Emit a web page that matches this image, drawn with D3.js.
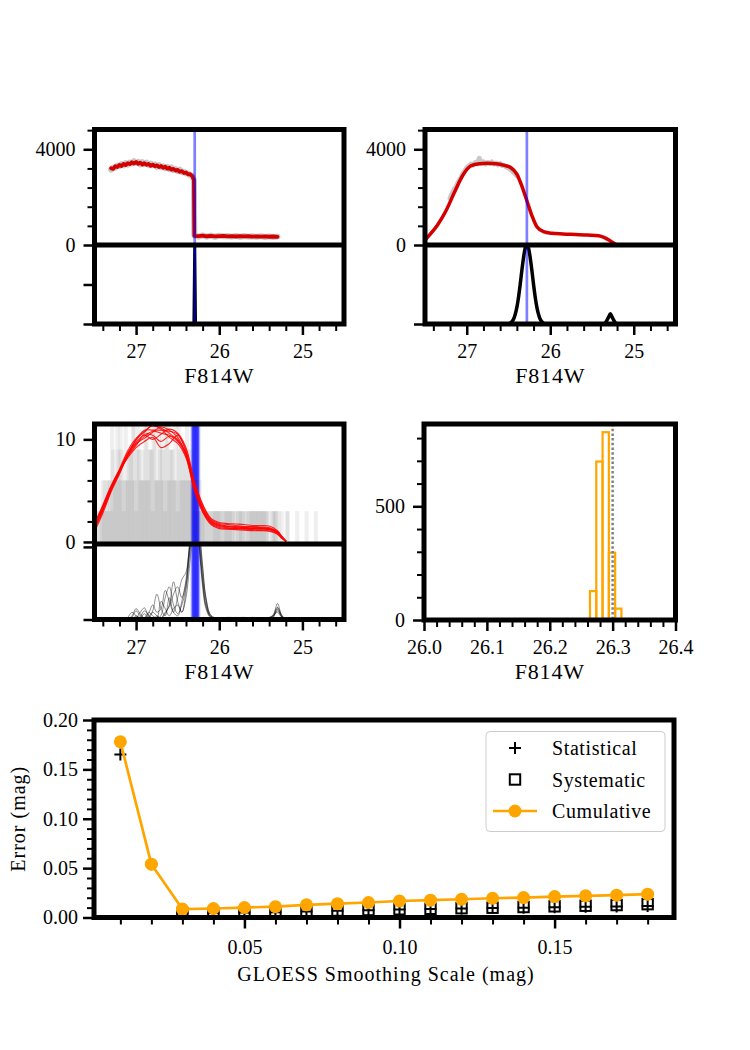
<!DOCTYPE html>
<html>
<head>
<meta charset="utf-8">
<script src="https://cdn.jsdelivr.net/npm/d3@7"></script>
<style>
  body { margin: 0; background: #fff; }
  svg { display: block; }
</style>
</head>
<body>
<script>
// ---------------- data ----------------
// shared magnitude axis of the F814W panels
var magDomain = [27.5, 24.5];
var magMajor = [27, 26, 25];
var magMajorLabels = ["27", "26", "25"];
var magMinor = [27.4, 27.2, 26.8, 26.6, 26.4, 26.2, 25.8, 25.6, 25.4, 25.2, 24.8, 24.6];

// top-left: luminosity function, tiny smoothing scale
var tlMag = [27.300, 27.275, 27.250, 27.225, 27.200, 27.175, 27.150, 27.125, 27.100, 27.075,
  27.050, 27.025, 27.000, 26.975, 26.950, 26.925, 26.900, 26.875, 26.850, 26.825,
  26.800, 26.775, 26.750, 26.725, 26.700, 26.675, 26.650, 26.625, 26.600, 26.575,
  26.550, 26.525, 26.500, 26.475, 26.450, 26.425, 26.400, 26.375, 26.350, 26.325,
  26.305, 26.300, 26.250, 26.200, 26.150, 26.100, 26.050, 26.000, 25.950, 25.900,
  25.850, 25.800, 25.750, 25.700, 25.650, 25.600, 25.550, 25.500, 25.450, 25.400,
  25.350, 25.300];
var tlRaw = [3150, 3240, 3230, 3320, 3290, 3380, 3330, 3420, 3360, 3450,
  3410, 3500, 3430, 3480, 3370, 3460, 3380, 3440, 3340, 3400,
  3330, 3370, 3270, 3340, 3250, 3290, 3210, 3270, 3170, 3240,
  3130, 3170, 3090, 3150, 3040, 3060, 2990, 2990, 2920, 2900,
  2700, 400, 350, 400, 350, 395, 345, 390, 370, 375,
  350, 380, 345, 375, 350, 365, 340, 370, 335, 360,
  330, 350];
var tlSmooth = [3210, 3180, 3290, 3260, 3350, 3300, 3390, 3340, 3420, 3380,
  3460, 3400, 3470, 3390, 3440, 3360, 3420, 3350, 3390, 3310,
  3360, 3290, 3330, 3260, 3300, 3230, 3270, 3190, 3230, 3150,
  3180, 3110, 3140, 3060, 3090, 3010, 3030, 2950, 2960, 2880,
  2720, 380, 370, 390, 365, 380, 360, 375, 385, 360,
  370, 355, 372, 358, 366, 350, 362, 348, 358, 345,
  355, 340];
var tlEdgeMag = [27.50, 26.32, 26.305, 26.295, 26.285, 26.27, 24.50];
var tlEdge = [0, 0, 0, 1, 0, 0, 0];
var tlTrgb = 26.295;

// top-right: smoothed luminosity function
var trRawMag = [27.200, 27.175, 27.150, 27.125, 27.100, 27.075, 27.050, 27.025, 27.000, 26.975,
  26.950, 26.925, 26.900, 26.875, 26.850, 26.825, 26.800, 26.775, 26.750, 26.725,
  26.700, 26.675, 26.650, 26.625, 26.600, 26.575, 26.550, 26.525, 26.500, 26.475,
  26.450, 26.425, 26.400];
var trRaw = [1950, 2150, 2330, 2450, 2640, 2780, 2950, 3080, 3230, 3300,
  3380, 3330, 3440, 3390, 3620, 3420, 3480, 3380, 3450, 3400,
  3470, 3390, 3430, 3350, 3400, 3320, 3330, 3250, 3230, 3150,
  3080, 2980, 2900];
var trMag = [27.50, 27.45, 27.35, 27.25, 27.15, 27.05, 26.95, 26.85, 26.75, 26.65,
  26.55, 26.47, 26.40, 26.34, 26.28, 26.22, 26.16, 26.08, 25.98, 25.85,
  25.70, 25.55, 25.42, 25.35, 25.28, 25.22, 25.19];
var trSmooth = [200, 400, 840, 1420, 2180, 2900, 3310, 3400, 3415, 3400,
  3330, 3230, 2960, 2460, 1850, 1230, 760, 560, 490, 462,
  440, 418, 388, 310, 170, 40, 0];
var trEdgeMag = [27.50, 26.50, 26.48, 26.46, 26.44, 26.42, 26.40, 26.38, 26.36, 26.34,
  26.32, 26.30, 26.28, 26.26, 26.24, 26.22, 26.20, 26.18, 26.16, 26.14,
  26.12, 26.10, 26.08, 26.04, 25.36, 25.33, 25.30, 25.28, 25.26, 25.23,
  25.20, 24.50];
var trEdge = [0, 0, 0.01, 0.03, 0.06, 0.12, 0.21, 0.34, 0.50, 0.68,
  0.84, 0.96, 1.0, 0.96, 0.84, 0.68, 0.50, 0.34, 0.21, 0.12,
  0.06, 0.03, 0.01, 0, 0, 0.03, 0.09, 0.13, 0.09, 0.03,
  0, 0];
var trTrgb = 26.28;

// middle-left: bootstrap realisations
var mlBinWidth = 0.05;
var mlBinStart = [27.50, 27.4875, 27.475, 27.4625];
var mlHist = [
  [3, 3, 6, 6, 9, 12, 9, 12, 9, 12, 12, 9, 12, 9, 12, 12, 9, 12, 9, 12, 9, 9, 9, 6, 6, 3, 3,
   3, 3, 3, 3, 3, 3, 0, 3, 3, 3, 3, 3, 3, 3, 3, 0, 3, 0, 0, 3, 0, 0, 0, 0, 0, 0, 0, 0, 0, 0, 0, 0, 0],
  [0, 3, 3, 6, 6, 9, 6, 6, 9, 6, 9, 6, 6, 9, 6, 9, 6, 6, 9, 6, 6, 6, 6, 6, 3, 3, 3,
   3, 3, 3, 0, 3, 3, 3, 3, 3, 0, 3, 3, 3, 3, 0, 3, 3, 0, 0, 0, 0, 3, 0, 0, 0, 0, 0, 0, 0, 0, 0, 0, 0],
  [3, 6, 6, 3, 6, 6, 3, 6, 6, 3, 6, 6, 6, 3, 6, 6, 3, 6, 6, 3, 6, 6, 6, 3, 3, 3, 0,
   0, 3, 3, 3, 3, 3, 3, 3, 0, 3, 3, 3, 3, 3, 3, 3, 0, 3, 0, 0, 0, 0, 0, 3, 0, 0, 0, 0, 0, 0, 0, 0, 0],
  [0, 3, 3, 12, 6, 12, 6, 9, 12, 9, 6, 12, 9, 12, 6, 12, 12, 9, 6, 12, 9, 12, 9, 6, 6, 3, 3,
   3, 3, 3, 3, 3, 3, 0, 3, 3, 3, 3, 3, 3, 3, 0, 3, 3, 0, 3, 0, 0, 0, 0, 0, 0, 3, 0, 0, 0, 0, 0, 0, 0]
];
var mlGrid = [27.5, 27.4, 27.3, 27.2, 27.1, 27.0, 26.9, 26.8, 26.7, 26.6, 26.5, 26.4, 26.3,
  26.2, 26.1, 26.0, 25.9, 25.8, 25.7, 25.6, 25.5, 25.4, 25.3, 25.25, 25.2];
var mlSmooth = [
  [1.5, 3.3, 5.2, 6.8, 8.4, 9.5, 10.3, 10.8, 10.6, 10.4, 10.0, 8.6, 5.5, 3.3, 2.0, 1.6, 1.5, 1.45, 1.4, 1.38, 1.35, 1.3, 0.95, 0.5, 0.1],
  [1.2, 3.0, 5.0, 6.9, 8.7, 9.9, 10.8, 11.3, 11.0, 10.2, 9.6, 8.2, 5.2, 3.0, 1.8, 1.4, 1.3, 1.3, 1.25, 1.2, 1.15, 1.1, 0.8, 0.4, 0.05],
  [1.8, 3.6, 5.5, 7.0, 8.2, 9.2, 9.8, 10.2, 9.2, 9.6, 10.4, 9.0, 5.8, 3.6, 2.2, 1.8, 1.7, 1.6, 1.5, 1.5, 1.45, 1.4, 1.0, 0.55, 0.1],
  [1.0, 2.8, 4.9, 6.6, 8.5, 10.0, 10.9, 10.9, 10.9, 10.8, 10.5, 8.8, 5.3, 3.1, 1.9, 1.5, 1.4, 1.3, 1.3, 1.3, 1.25, 1.2, 0.9, 0.45, 0.08],
  [1.6, 3.4, 5.3, 7.0, 8.6, 9.6, 10.1, 10.7, 11.2, 10.9, 10.2, 8.5, 5.6, 3.4, 2.1, 1.7, 1.55, 1.5, 1.45, 1.45, 1.4, 1.3, 1.0, 0.5, 0.1],
  [1.4, 3.1, 5.1, 6.7, 8.3, 9.4, 10.5, 10.4, 9.8, 10.3, 9.8, 8.7, 5.4, 3.2, 2.0, 1.6, 1.5, 1.4, 1.35, 1.3, 1.3, 1.25, 0.9, 0.45, 0.1],
  [1.7, 3.5, 5.4, 7.1, 8.9, 10.1, 10.7, 11.4, 11.1, 10.6, 9.9, 8.3, 5.0, 2.9, 1.7, 1.3, 1.25, 1.2, 1.15, 1.1, 1.1, 1.05, 0.75, 0.35, 0.05],
  [1.3, 3.2, 5.2, 6.9, 8.5, 9.7, 10.4, 10.0, 10.5, 11.0, 10.6, 9.2, 6.0, 3.7, 2.3, 1.9, 1.8, 1.75, 1.7, 1.6, 1.6, 1.55, 1.1, 0.6, 0.12]
];
var meGrid = [27.10, 27.05, 27.00, 26.95, 26.90, 26.85, 26.80, 26.75, 26.70, 26.65,
  26.60, 26.55, 26.50, 26.45, 26.40, 26.36, 26.32, 26.28, 26.24, 26.20,
  26.16, 26.10, 26.00, 25.90, 25.80, 25.70, 25.60, 25.50, 25.40, 25.35,
  25.30, 25.25, 25.20];
var mlEdgeResp = [
  [0, 0.05, 0.15, 0.08, 0.02, 0.04, 0.1, 0.05, 0.02, 0.08, 0.2, 0.52, 0.25, 0.1, 0.3, 0.7, 1.15, 1.35, 1.05, 0.55, 0.2, 0.03, 0.02, 0, 0.03, 0, 0.02, 0, 0.02, 0.06, 0.22, 0.06, 0],
  [0, 0, 0.02, 0.1, 0.16, 0.05, 0.02, 0, 0.06, 0.3, 0.45, 0.2, 0.08, 0.2, 0.45, 0.9, 1.3, 1.5, 1.2, 0.7, 0.3, 0.06, 0.01, 0.02, 0, 0, 0.03, 0.01, 0, 0.04, 0.14, 0.04, 0],
  [0.02, 0.1, 0.05, 0.02, 0, 0.08, 0.2, 0.1, 0.15, 0.4, 0.25, 0.1, 0.3, 0.55, 0.65, 0.95, 1.25, 1.3, 0.95, 0.5, 0.18, 0.04, 0, 0.03, 0.02, 0, 0, 0.02, 0.01, 0.05, 0.1, 0.03, 0],
  [0, 0, 0, 0.04, 0.12, 0.06, 0, 0.05, 0.02, 0.1, 0.18, 0.35, 0.45, 0.3, 0.5, 1.0, 1.4, 1.45, 1.0, 0.45, 0.15, 0.02, 0.01, 0, 0.02, 0.03, 0, 0, 0.02, 0.07, 0.17, 0.05, 0],
  [0, 0.03, 0.12, 0.05, 0.02, 0.1, 0.05, 0.02, 0.25, 0.15, 0.05, 0.15, 0.2, 0.1, 0.4, 0.85, 1.3, 1.55, 1.25, 0.75, 0.3, 0.05, 0, 0, 0.02, 0, 0.02, 0, 0.03, 0.05, 0.12, 0.04, 0],
  [0, 0, 0.05, 0.02, 0.08, 0.02, 0.12, 0.35, 0.15, 0.05, 0.3, 0.1, 0.05, 0.25, 0.55, 1.0, 1.35, 1.4, 1.1, 0.6, 0.25, 0.04, 0.02, 0.01, 0, 0.02, 0.01, 0.02, 0, 0.03, 0.16, 0.06, 0]
];
var mlEdges = [26.27, 26.28, 26.28, 26.285, 26.29, 26.29, 26.29, 26.28, 26.295, 26.30,
  26.29, 26.28, 26.275, 26.29, 26.30, 26.285, 26.29, 26.31, 26.265, 26.29];

// middle-right: histogram of tip magnitudes
var histEdges = [26.264, 26.274, 26.284, 26.294, 26.304, 26.314];
var histCounts = [127, 697, 826, 296, 50];
var histMarker = 26.30;
var mrMajor = [26.0, 26.1, 26.2, 26.3, 26.4];
var mrMajorLabels = ["26.0", "26.1", "26.2", "26.3", "26.4"];
var mrMinor = [26.02, 26.04, 26.06, 26.08, 26.12, 26.14, 26.16, 26.18, 26.22, 26.24,
  26.26, 26.28, 26.32, 26.34, 26.36, 26.38];

// bottom: error vs smoothing scale (null = hidden under the cumulative marker)
var smoothScale = [0.01, 0.02, 0.03, 0.04, 0.05, 0.06, 0.07, 0.08, 0.09, 0.10,
  0.11, 0.12, 0.13, 0.14, 0.15, 0.16, 0.17, 0.18];
var statErr = [0.165, 0.054, 0.0043, 0.0046, 0.0051, 0.0054, 0.0062, 0.0068, 0.0074, 0.0081,
  0.0086, 0.0090, 0.0095, 0.0100, 0.0104, 0.0108, 0.0112, 0.0116];
var sysErr = [null, null, 0.0042, 0.0045, 0.0050, 0.0056, 0.0064, 0.0070, 0.0076, 0.0083,
  0.0088, 0.0094, 0.0099, 0.0106, 0.0113, 0.0119, 0.0126, 0.0135];
var cumErr = [0.178, 0.054, 0.0085, 0.0091, 0.0101, 0.0110, 0.0128, 0.0140, 0.0152, 0.0167,
  0.0175, 0.0185, 0.0195, 0.0202, 0.0212, 0.0219, 0.0226, 0.0236];
var bxMajor = [0.05, 0.10, 0.15];
var bxMajorLabels = ["0.05", "0.10", "0.15"];
var bxMinor = [0.01, 0.02, 0.03, 0.04, 0.06, 0.07, 0.08, 0.09, 0.11, 0.12, 0.13, 0.14, 0.16, 0.17, 0.18];
var byMajor = [0, 0.05, 0.10, 0.15, 0.20];
var byMajorLabels = ["0.00", "0.05", "0.10", "0.15", "0.20"];
var byMinor = [0.01, 0.02, 0.03, 0.04, 0.06, 0.07, 0.08, 0.09, 0.11, 0.12, 0.13, 0.14, 0.16, 0.17, 0.18, 0.19];
var legendNames = ["Statistical", "Systematic", "Cumulative"];

// ---------------- layout ----------------
var FONT = "'Liberation Serif', 'DejaVu Serif', serif";
var PTL = {l: 94.5, r: 344, t: 129.5, m: 245, b: 324};
var PTR = {l: 425, r: 675.5, t: 129.5, m: 245, b: 324};
var PML = {l: 94.5, r: 344, t: 424, m: 544, b: 619.5};
var PMR = {l: 424, r: 675.5, t: 424, b: 620};
var PB = {l: 94, r: 674, t: 720, b: 917.5};
var ORANGE = "#ffa500";

var svg = d3.select("body").append("svg").attr("width", 750).attr("height", 1050);
var defs = svg.append("defs");

function addClip(id, p, y0, y1) {
  defs.append("clipPath").attr("id", id).append("rect")
    .attr("x", p.l).attr("y", y0).attr("width", p.r - p.l).attr("height", y1 - y0);
  return svg.append("g").attr("clip-path", "url(#" + id + ")");
}

function drawLine(g, xs, ys, xs_, ys_, curve, color, width, opacity) {
  var line = d3.line().x(function (d) { return xs_(d[0]); }).y(function (d) { return ys_(d[1]); });
  if (curve) line.curve(curve);
  return g.append("path").datum(d3.zip(xs, ys)).attr("d", line)
    .attr("fill", "none").attr("stroke", color).attr("stroke-width", width)
    .attr("stroke-opacity", opacity == null ? 1 : opacity)
    .attr("stroke-linejoin", "round").attr("stroke-linecap", "round");
}

function vline(g, x, y0, y1, color, width, opacity) {
  g.append("line").attr("x1", x).attr("x2", x).attr("y1", y0).attr("y2", y1)
    .attr("stroke", color).attr("stroke-width", width).attr("stroke-opacity", opacity);
}

function frame(p) {
  svg.append("rect").attr("x", p.l).attr("y", p.t).attr("width", p.r - p.l).attr("height", p.b - p.t)
    .attr("fill", "none").attr("stroke", "#000").attr("stroke-width", 5);
  if (p.m) {
    svg.append("line").attr("x1", p.l).attr("x2", p.r).attr("y1", p.m).attr("y2", p.m)
      .attr("stroke", "#000").attr("stroke-width", 5);
  }
}

function styleAxis(g, width) {
  g.attr("font-family", null).attr("font-size", null);
  g.select(".domain").remove();
  g.selectAll(".tick line").attr("stroke", "#000").attr("stroke-width", width);
  g.selectAll(".tick text").attr("fill", "#000")
    .style("font-family", FONT).style("font-size", "20px");
}

function drawAxis(axisFn, scale, pos, major, labels, minor, pad) {
  if (minor && minor.length) {
    var gMin = svg.append("g").attr("transform", pos)
      .call(axisFn(scale).tickValues(minor).tickSize(7).tickFormat(function () { return ""; }));
    styleAxis(gMin, 2);
  }
  var gMaj = svg.append("g").attr("transform", pos)
    .call(axisFn(scale).tickValues(major).tickSize(11).tickPadding(pad)
      .tickFormat(function (d, i) { return labels ? labels[i] : ""; }));
  styleAxis(gMaj, 2.5);
}

function xLabel(text, cx, y, size, spacing) {
  svg.append("text").attr("x", cx).attr("y", y).attr("text-anchor", "middle")
    .style("font-family", FONT).style("font-size", size + "px")
    .style("letter-spacing", spacing + "px").text(text);
}

// ---------------- top-left ----------------
(function () {
  var p = PTL;
  var x = d3.scaleLinear().domain(magDomain).range([p.l, p.r]);
  var yT = d3.scaleLinear().domain([0, 4827]).range([p.m, p.t]);
  var yB = d3.scaleLinear().domain([0, 1]).range([p.b, p.m]);
  var gT = addClip("tlTop", p, p.t, p.m);
  drawLine(gT, tlMag, tlRaw, x, yT, null, "#c8c8c8", 6);
  drawLine(gT, tlMag, tlSmooth, x, yT, null, "#d40000", 3.8);
  vline(gT, x(tlTrgb), p.t, p.m, "blue", 2.7, 0.5);
  var gB = addClip("tlBot", p, p.m, p.b);
  drawLine(gB, tlEdgeMag, tlEdge, x, yB, null, "#000", 3);
  vline(gB, x(tlTrgb), p.m, p.b, "blue", 2.7, 0.5);
  frame(p);
  drawAxis(d3.axisBottom, x, "translate(0," + p.b + ")", magMajor, magMajorLabels, magMinor, 9);
  drawAxis(d3.axisLeft, yT, "translate(" + p.l + ",0)", [0, 4000], ["0", "4000"], [800, 1600, 2400, 3200, 4800], 8);
  drawAxis(d3.axisLeft, yB, "translate(" + p.l + ",0)", [0, 0.5], null, [], 8);
  xLabel("F814W", (p.l + p.r) / 2, p.b + 59, 22, 0.8);
})();

// ---------------- top-right ----------------
(function () {
  var p = PTR;
  var x = d3.scaleLinear().domain(magDomain).range([p.l, p.r]);
  var yT = d3.scaleLinear().domain([0, 4827]).range([p.m, p.t]);
  var yB = d3.scaleLinear().domain([0, 1]).range([p.b, p.m]);
  var gT = addClip("trTop", p, p.t, p.m);
  drawLine(gT, trRawMag, trRaw, x, yT, null, "#c8c8c8", 5);
  drawLine(gT, trMag, trSmooth, x, yT, d3.curveMonotoneX, "#d40000", 3.5);
  vline(gT, x(trTrgb), p.t, p.m, "blue", 2.7, 0.5);
  var gB = addClip("trBot", p, p.m, p.b);
  drawLine(gB, trEdgeMag, trEdge, x, yB, d3.curveMonotoneX, "#000", 3.5);
  vline(gB, x(trTrgb), p.m, p.b, "blue", 2.7, 0.5);
  frame(p);
  drawAxis(d3.axisBottom, x, "translate(0," + p.b + ")", magMajor, magMajorLabels, magMinor, 9);
  drawAxis(d3.axisLeft, yT, "translate(" + p.l + ",0)", [0, 4000], ["0", "4000"], [800, 1600, 2400, 3200, 4800], 8);
  drawAxis(d3.axisLeft, yB, "translate(" + p.l + ",0)", [0], null, [], 8);
  xLabel("F814W", (p.l + p.r) / 2, p.b + 59, 22, 0.8);
})();

// ---------------- middle-left ----------------
(function () {
  var p = PML;
  var x = d3.scaleLinear().domain(magDomain).range([p.l, p.r]);
  var yT = d3.scaleLinear().domain([-0.2, 11.5]).range([p.m, p.t]);
  var yB = d3.scaleLinear().domain([0, 1.04]).range([p.b, p.m]);
  var gT = addClip("mlTop", p, p.t, p.m);
  mlHist.forEach(function (counts, k) {
    gT.append("g").selectAll("rect")
      .data(counts.map(function (c, i) { return {c: c, m0: mlBinStart[k] - i * mlBinWidth}; })
        .filter(function (d) { return d.c > 0; }))
      .enter().append("rect")
      .attr("x", function (d) { return x(d.m0); })
      .attr("width", function (d) { return x(d.m0 - mlBinWidth) - x(d.m0); })
      .attr("y", function (d) { return yT(d.c); })
      .attr("height", function (d) { return yT(0) - yT(d.c) + 3; })
      .attr("fill", "#7a7a7a").attr("fill-opacity", 0.12);
  });
  mlEdges.forEach(function (e) { vline(gT, x(e), p.t, p.m, "blue", 7, 0.08); });
  mlSmooth.forEach(function (c) {
    drawLine(gT, mlGrid, c, x, yT, d3.curveCatmullRom, "#ff0000", 1.1, 0.85);
  });
  var gB = addClip("mlBot", p, p.m, p.b);
  mlEdgeResp.forEach(function (c) {
    drawLine(gB, meGrid, c, x, yB, d3.curveCatmullRom, "#000", 0.8, 0.55);
  });
  mlEdges.forEach(function (e) { vline(gB, x(e), p.m, p.b, "blue", 7, 0.08); });
  frame(p);
  drawAxis(d3.axisBottom, x, "translate(0," + p.b + ")", magMajor, magMajorLabels, magMinor, 9);
  drawAxis(d3.axisLeft, yT, "translate(" + p.l + ",0)", [0, 10], ["0", "10"], [2, 4, 6, 8], 8);
  drawAxis(d3.axisLeft, yB, "translate(" + p.l + ",0)", [0, 1], null, [], 8);
  xLabel("F814W", (p.l + p.r) / 2, p.b + 59, 22, 0.8);
})();

// ---------------- middle-right ----------------
(function () {
  var p = PMR;
  var x = d3.scaleLinear().domain([26.0, 26.4]).range([p.l, p.r]);
  var y = d3.scaleLinear().domain([0, 862]).range([p.b, p.t]);
  var g = addClip("mr", p, p.t, p.b);
  g.selectAll("rect.bin").data(histCounts).enter().append("rect")
    .attr("class", "bin")
    .attr("x", function (d, i) { return x(histEdges[i]); })
    .attr("width", function (d, i) { return x(histEdges[i + 1]) - x(histEdges[i]); })
    .attr("y", function (d) { return y(d); })
    .attr("height", function (d) { return y(0) - y(d); })
    .attr("fill", "none").attr("stroke", ORANGE).attr("stroke-width", 2.2);
  g.append("line").attr("x1", x(histMarker)).attr("x2", x(histMarker))
    .attr("y1", p.t).attr("y2", p.b)
    .attr("stroke", "#808080").attr("stroke-width", 2.5).attr("stroke-dasharray", "2.5,2.2");
  frame(p);
  drawAxis(d3.axisBottom, x, "translate(0," + p.b + ")", mrMajor, mrMajorLabels, mrMinor, 9);
  drawAxis(d3.axisLeft, y, "translate(" + p.l + ",0)", [0, 500], ["0", "500"], [100, 200, 300, 400, 600, 700, 800], 8);
  xLabel("F814W", (p.l + p.r) / 2, p.b + 59, 22, 0.8);
})();

// ---------------- bottom ----------------
(function () {
  var p = PB;
  var x = d3.scaleLinear().domain([0.0015, 0.1885]).range([p.l, p.r]);
  var y = d3.scaleLinear().domain([0, 0.2]).range([p.b, p.t]);
  var g = addClip("bot", p, p.t, p.b);
  var plus = "M-6,0H6M0,-6V6";
  var statPts = d3.zip(smoothScale, statErr).filter(function (d) { return d[1] != null; });
  var sysPts = d3.zip(smoothScale, sysErr).filter(function (d) { return d[1] != null; });
  g.selectAll("path.stat").data(statPts).enter().append("path").attr("class", "stat")
    .attr("d", plus)
    .attr("transform", function (d) { return "translate(" + x(d[0]) + "," + y(d[1]) + ")"; })
    .attr("stroke", "#000").attr("stroke-width", 2).attr("fill", "none");
  g.selectAll("rect.sys").data(sysPts).enter().append("rect").attr("class", "sys")
    .attr("x", function (d) { return x(d[0]) - 5.2; })
    .attr("y", function (d) { return y(d[1]) - 5.2; })
    .attr("width", 10.4).attr("height", 10.4)
    .attr("stroke", "#000").attr("stroke-width", 2).attr("fill", "none");
  drawLine(g, smoothScale, cumErr, x, y, null, ORANGE, 2.7);
  g.selectAll("circle.cum").data(smoothScale).enter().append("circle").attr("class", "cum")
    .attr("cx", function (d) { return x(d); })
    .attr("cy", function (d, i) { return y(cumErr[i]); })
    .attr("r", 6.5).attr("fill", ORANGE);
  frame(p);
  drawAxis(d3.axisBottom, x, "translate(0," + p.b + ")", bxMajor, bxMajorLabels, bxMinor, 11);
  drawAxis(d3.axisLeft, y, "translate(" + p.l + ",0)", byMajor, byMajorLabels, byMinor, 5);
  xLabel("GLOESS Smoothing Scale (mag)", (p.l + p.r) / 2 + 2, p.b + 63.5, 20, 1);
  svg.append("text").attr("transform", "translate(25," + ((p.t + p.b) / 2) + ") rotate(-90)")
    .attr("text-anchor", "middle")
    .style("font-family", FONT).style("font-size", "20px").style("letter-spacing", "1px")
    .text("Error (mag)");

  // legend
  var lg = svg.append("g");
  lg.append("rect").attr("x", 486).attr("y", 731.5).attr("width", 179).attr("height", 100)
    .attr("rx", 4).attr("fill", "#fff").attr("fill-opacity", 0.8)
    .attr("stroke", "#cccccc").attr("stroke-width", 1);
  var rows = [748, 779.5, 811];
  lg.append("path").attr("d", plus).attr("transform", "translate(515," + rows[0] + ")")
    .attr("stroke", "#000").attr("stroke-width", 2);
  lg.append("rect").attr("x", 515 - 5.2).attr("y", rows[1] - 5.2).attr("width", 10.4).attr("height", 10.4)
    .attr("fill", "none").attr("stroke", "#000").attr("stroke-width", 2);
  lg.append("line").attr("x1", 493).attr("x2", 537).attr("y1", rows[2]).attr("y2", rows[2])
    .attr("stroke", ORANGE).attr("stroke-width", 2.7);
  lg.append("circle").attr("cx", 515).attr("cy", rows[2]).attr("r", 6.5).attr("fill", ORANGE);
  lg.selectAll("text").data(legendNames).enter().append("text")
    .attr("x", 552).attr("y", function (d, i) { return rows[i]; })
    .attr("dy", "0.35em")
    .style("font-family", FONT).style("font-size", "20px").style("letter-spacing", "0.6px")
    .text(function (d) { return d; });
})();
</script>
</body>
</html>
